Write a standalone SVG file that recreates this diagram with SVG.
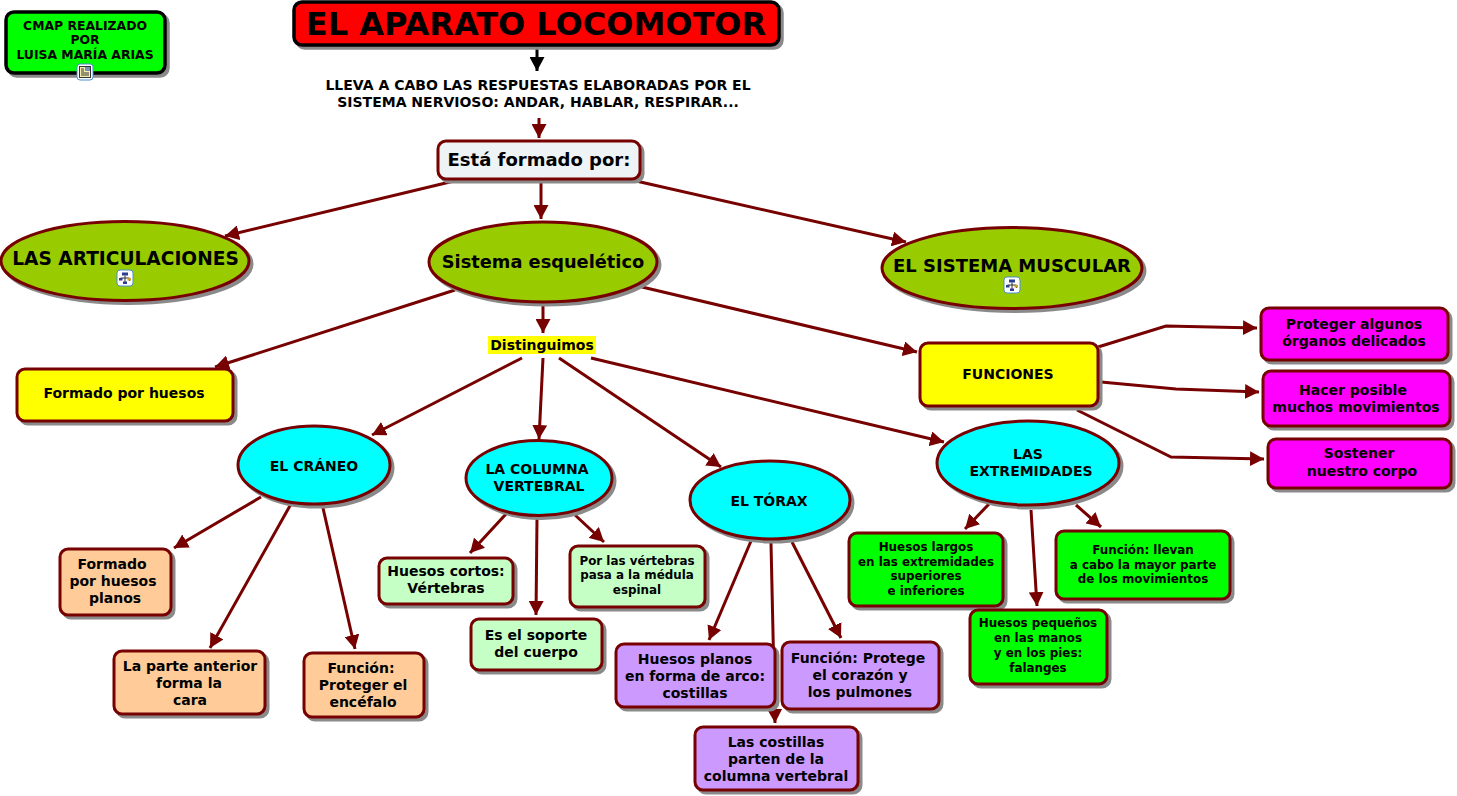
<svg xmlns="http://www.w3.org/2000/svg" width="1457" height="796" viewBox="0 0 1457 796">
<style>
text{font-family:"DejaVu Sans","Liberation Sans",sans-serif;font-weight:bold;fill:#000;text-anchor:middle}
.s{filter:drop-shadow(3px 3px 0.7px #8a8a8a)}
.b{stroke:#770000;stroke-width:3}
.k{stroke:#000;stroke-width:3.5}
.c{fill:none;stroke:#770000;stroke-width:3;marker-end:url(#a)}
.t13{font-size:14px}
.t12{font-size:11.9px}
.t14{font-size:14px}
</style>
<defs>
<marker id="a" markerUnits="userSpaceOnUse" markerWidth="16" markerHeight="15" refX="14" refY="7.500" orient="auto"><path d="M0 0L14 7.500L0 15Z" fill="#770000"/></marker>
<marker id="ak" markerUnits="userSpaceOnUse" markerWidth="16" markerHeight="15" refX="14" refY="7.500" orient="auto"><path d="M0 0L14 7.500L0 15Z" fill="#000"/></marker>
<g id="imap"><rect x="-8" y="-8" width="16" height="16" rx="3" fill="#fff" stroke="#4a8fd0"/><rect x="-3" y="-5.500" width="6" height="3" fill="#2b3f8f"/><path d="M0-2.500V4M-4.500 0H4.500V3" fill="none" stroke="#333"/><rect x="-6" y="0" width="3.500" height="2.500" fill="#2b3f8f"/><rect x="2.500" y="0" width="3.500" height="2.500" fill="#c9a227"/><rect x="-2" y="3.500" width="4" height="2.500" fill="#2b3f8f"/></g>
<g id="idoc"><rect x="-8" y="-8" width="16" height="16" rx="3" fill="#fff" stroke="#4a8fd0"/><rect x="-5.500" y="-5.500" width="11" height="11" fill="#f5f0b0" stroke="#333"/><rect x="0" y="-5" width="5" height="4" fill="#7a8fc0"/><path d="M-4-3H-1M-4-1H-1M-4 1H4M-4 3H4" stroke="#333"/></g>
</defs>
<rect width="1457" height="796" fill="#fff"/>
<g id="connectors">
<path d="M537 48V71" fill="none" stroke="#000" stroke-width="3" marker-end="url(#ak)"/>
<path class="c" d="M539 118V138"/>
<path class="c" d="M454 181L225 236"/>
<path class="c" d="M541 182V219"/>
<path class="c" d="M636 181L906 242"/>
<path class="c" d="M543 305V333"/>
<path class="c" d="M455 290L215 367"/>
<path class="c" d="M642 287L917 352"/>
<path class="c" d="M522 358L372 435"/>
<path class="c" d="M543 358L539 439"/>
<path class="c" d="M559 358L721 467"/>
<path class="c" d="M591 358L944 442"/>
<path class="c" d="M1098 347L1166 326L1257 328"/>
<path class="c" d="M1101 382L1176 389L1259 392"/>
<path class="c" d="M1077 410L1171 457L1264 459"/>
<path class="c" d="M261 497L174 548"/>
<path class="c" d="M291 504L210 648"/>
<path class="c" d="M323 508L355 649"/>
<path class="c" d="M506 514L470 553"/>
<path class="c" d="M537 518L536 615"/>
<path class="c" d="M575 515L604 542"/>
<path class="c" d="M751 541L709 640"/>
<path class="c" d="M771 543L775 723"/>
<path class="c" d="M792 542L841 638"/>
<path class="c" d="M989 504L965 529"/>
<path class="c" d="M1031 510L1037 606"/>
<path class="c" d="M1076 505L1101 527"/>
</g>
<g id="n-cmap"><rect class="s k" x="6" y="12" width="159" height="61" rx="8" fill="#0f0"/><text font-size="12.400"><tspan x="85" y="30">CMAP REALIZADO</tspan><tspan x="85" y="44">POR</tspan><tspan x="85" y="59">LUISA MARÍA ARIAS</tspan></text><use href="#idoc" x="85" y="72"/></g>
<g id="n-title"><rect class="s k" x="294" y="2" width="485" height="43" rx="8" fill="#f00"/><text x="536" y="35" font-size="32">EL APARATO LOCOMOTOR</text></g>
<g id="n-lleva"><text class="t13"><tspan x="538" y="90">LLEVA A CABO LAS RESPUESTAS ELABORADAS POR EL</tspan><tspan x="538" y="107">SISTEMA NERVIOSO: ANDAR, HABLAR, RESPIRAR...</tspan></text></g>
<g id="n-formado"><rect class="s b" x="438" y="141" width="202" height="38" rx="8" fill="#eef3f5"/><text x="539" y="166" font-size="18">Está formado por:</text></g>
<g id="n-artic"><ellipse class="s b" cx="125" cy="261" rx="124" ry="39.500" fill="#9c0"/><text x="125.500" y="265" font-size="18.600">LAS ARTICULACIONES</text><use href="#imap" x="125" y="278"/></g>
<g id="n-sistema"><ellipse class="s b" cx="543" cy="262" rx="114" ry="40" fill="#9c0"/><text x="543" y="268" font-size="17.800">Sistema esquelético</text></g>
<g id="n-muscular"><ellipse class="s b" cx="1012" cy="268" rx="130" ry="40.500" fill="#9c0"/><text x="1012" y="272" font-size="18">EL SISTEMA MUSCULAR</text><use href="#imap" x="1012" y="285"/></g>
<g id="n-dist"><rect x="488" y="336" width="108" height="18" fill="#ff0"/><text class="t13" x="542" y="350">Distinguimos</text></g>
<g id="n-fh"><rect class="s b" x="17" y="369" width="216" height="52" rx="8" fill="#ff0"/><text class="t13" x="124" y="398">Formado por huesos</text></g>
<g id="n-func"><rect class="s b" x="920" y="343" width="178" height="63" rx="8" fill="#ff0"/><text class="t13" x="1008" y="379">FUNCIONES</text></g>
<g id="n-m1"><rect class="s b" x="1261" y="308" width="187" height="52" rx="8" fill="#f0f"/><text class="t14"><tspan x="1354" y="329">Proteger algunos</tspan><tspan x="1354" y="346">órganos delicados</tspan></text></g>
<g id="n-m2"><rect class="s b" x="1263" y="371" width="187" height="55" rx="8" fill="#f0f"/><text class="t14"><tspan x="1353" y="395">Hacer posible</tspan><tspan x="1356" y="412">muchos movimientos</tspan></text></g>
<g id="n-m3"><rect class="s b" x="1268" y="439" width="183" height="49" rx="8" fill="#f0f"/><text class="t14"><tspan x="1359" y="458">Sostener</tspan><tspan x="1362" y="476">nuestro corpo</tspan></text></g>
<g id="n-craneo"><ellipse class="s b" cx="314" cy="465" rx="76" ry="39" fill="#0ff"/><text class="t13" x="314" y="471">EL CRÁNEO</text></g>
<g id="n-columna"><ellipse class="s b" cx="539" cy="478" rx="73" ry="37.500" fill="#0ff"/><text class="t13"><tspan x="537" y="474">LA COLUMNA</tspan><tspan x="539" y="491">VERTEBRAL</tspan></text></g>
<g id="n-torax"><ellipse class="s b" cx="770" cy="500" rx="80" ry="39" fill="#0ff"/><text class="t13" x="769" y="506">EL TÓRAX</text></g>
<g id="n-extrem"><ellipse class="s b" cx="1028" cy="463" rx="91" ry="42" fill="#0ff"/><text class="t13"><tspan x="1028" y="459">LAS</tspan><tspan x="1031" y="476">EXTREMIDADES</tspan></text></g>
<g id="n-o1"><rect class="s b" x="60" y="549" width="111" height="66" rx="8" fill="#fc9"/><text class="t14"><tspan x="112" y="569">Formado</tspan><tspan x="113" y="586">por huesos</tspan><tspan x="115" y="603">planos</tspan></text></g>
<g id="n-o2"><rect class="s b" x="114" y="651" width="151" height="63" rx="8" fill="#fc9"/><text class="t14"><tspan x="190" y="671">La parte anterior</tspan><tspan x="189" y="688">forma la</tspan><tspan x="190" y="705">cara</tspan></text></g>
<g id="n-o3"><rect class="s b" x="304" y="653" width="120" height="64" rx="8" fill="#fc9"/><text class="t14"><tspan x="361" y="673">Función:</tspan><tspan x="363" y="690">Proteger el</tspan><tspan x="363" y="707">encéfalo</tspan></text></g>
<g id="n-l1"><rect class="s b" x="379" y="558" width="134" height="46" rx="8" fill="#c6ffc6"/><text class="t14"><tspan x="446" y="576">Huesos cortos:</tspan><tspan x="446" y="593">Vértebras</tspan></text></g>
<g id="n-l2"><rect class="s b" x="570" y="546" width="135" height="61" rx="8" fill="#c6ffc6"/><text class="t12"><tspan x="637" y="565">Por las vértebras</tspan><tspan x="637" y="579">pasa a la médula</tspan><tspan x="637" y="594">espinal</tspan></text></g>
<g id="n-l3"><rect class="s b" x="471" y="619" width="131" height="51" rx="8" fill="#c6ffc6"/><text class="t14"><tspan x="536" y="640">Es el soporte</tspan><tspan x="536" y="657">del cuerpo</tspan></text></g>
<g id="n-p1"><rect class="s b" x="616" y="644" width="159" height="63" rx="8" fill="#c9f"/><text class="t14"><tspan x="695" y="664">Huesos planos</tspan><tspan x="695" y="681">en forma de arco:</tspan><tspan x="695" y="698">costillas</tspan></text></g>
<g id="n-p2"><rect class="s b" x="782" y="642" width="157" height="67" rx="8" fill="#c9f"/><text class="t14"><tspan x="858" y="663">Función: Protege</tspan><tspan x="860" y="680">el corazón y</tspan><tspan x="860" y="697">los pulmones</tspan></text></g>
<g id="n-p3"><rect class="s b" x="695" y="727" width="163" height="63" rx="8" fill="#c9f"/><text class="t14"><tspan x="776" y="747">Las costillas</tspan><tspan x="776" y="764">parten de la</tspan><tspan x="776" y="781">columna vertebral</tspan></text></g>
<g id="n-g1"><rect class="s b" x="849" y="533" width="154" height="73" rx="8" fill="#0f0"/><text class="t12"><tspan x="926" y="551">Huesos largos</tspan><tspan x="926" y="566">en las extremidades</tspan><tspan x="926" y="580">superiores</tspan><tspan x="926" y="595">e inferiores</tspan></text></g>
<g id="n-g2"><rect class="s b" x="970" y="610" width="137" height="74" rx="8" fill="#0f0"/><text class="t12"><tspan x="1038" y="627">Huesos pequeños</tspan><tspan x="1038" y="642">en las manos</tspan><tspan x="1038" y="657">y en los pies:</tspan><tspan x="1038" y="672">falanges</tspan></text></g>
<g id="n-g3"><rect class="s b" x="1056" y="531" width="174" height="68" rx="8" fill="#0f0"/><text class="t12"><tspan x="1143" y="554">Función: llevan</tspan><tspan x="1143" y="569">a cabo la mayor parte</tspan><tspan x="1143" y="583">de los movimientos</tspan></text></g>
</svg>
